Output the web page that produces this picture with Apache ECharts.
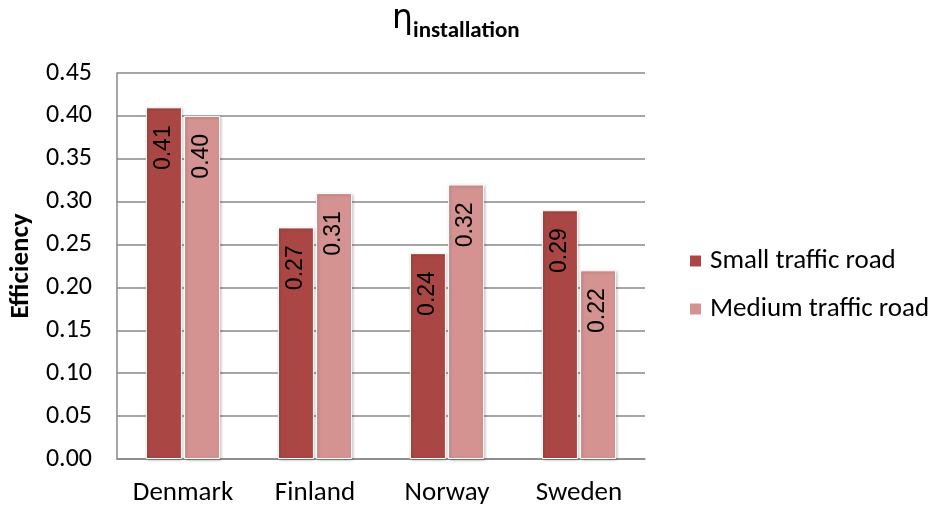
<!DOCTYPE html>
<html>
<head>
<meta charset="utf-8">
<script src="https://cdn.jsdelivr.net/npm/echarts@6/dist/echarts.min.js"></script>
<style>
  html, body { margin: 0; padding: 0; background: #fff; }
  #chart { width: 929px; height: 509px; }
</style>
</head>
<body>
<div id="chart"></div>
<script>
// Installation efficiency per country, two road traffic classes
const countries = ['Denmark', 'Finland', 'Norway', 'Sweden'];
const smallTraffic = [0.41, 0.27, 0.24, 0.29];
const mediumTraffic = [0.40, 0.31, 0.32, 0.22];
const seriesNames = ['Small traffic road', 'Medium traffic road'];

const chart = echarts.init(document.getElementById('chart'));

const uiFont = 'Calibri, Carlito, Lato, "Noto Sans", sans-serif';

function barLabel() {
  return {
    show: true,
    position: 'insideTop',
    distance: 18,
    rotate: 90,
    align: 'right',
    verticalAlign: 'middle',
    color: '#000',
    fontSize: 23,
    fontFamily: '"Liberation Sans", Arial, sans-serif',
    formatter: p => p.value.toFixed(2)
  };
}

const barStyle = color => ({
  color: color,
  borderColor: '#fff',
  borderWidth: 1,
  shadowColor: 'rgba(0,0,0,0.25)',
  shadowBlur: 3,
  shadowOffsetX: 1,
  shadowOffsetY: 1
});

chart.setOption({
  animation: false,
  textStyle: { fontFamily: uiFont },
  // eta with a bold subscript
  title: [
    {
      text: 'η',
      left: 392,
      top: 3,
      padding: 0,
      textStyle: { fontSize: 33, lineHeight: 33, fontWeight: 'normal', color: '#000', fontFamily: '"DejaVu Sans", sans-serif' }
    },
    {
      text: 'installation',
      left: 413,
      top: 20,
      padding: 0,
      textStyle: { fontSize: 23, lineHeight: 23, fontWeight: 'bold', color: '#000', fontFamily: uiFont }
    }
  ],
  grid: { left: 117, top: 73, width: 528, height: 386 },
  legend: {
    orient: 'vertical',
    left: 688,
    top: 247,
    padding: 0,
    itemWidth: 13,
    itemHeight: 13,
    itemGap: 20,
    icon: 'rect',
    data: seriesNames,
    textStyle: { fontSize: 27, lineHeight: 28, color: '#000', fontFamily: uiFont, padding: [0, 0, 0, 3] }
  },
  xAxis: {
    type: 'category',
    data: countries,
    axisLine: { lineStyle: { color: '#888', width: 1.5 } },
    axisTick: { show: false },
    axisLabel: { fontSize: 27, color: '#000', margin: 21, fontFamily: uiFont }
  },
  yAxis: {
    type: 'value',
    min: 0,
    max: 0.45,
    interval: 0.05,
    name: 'Efficiency',
    nameLocation: 'middle',
    nameGap: 80,
    nameTextStyle: { fontSize: 27, fontWeight: 'bold', color: '#000', fontFamily: uiFont },
    axisLine: { show: true, lineStyle: { color: '#888', width: 1.5 } },
    axisTick: { show: false },
    splitLine: { lineStyle: { color: '#888', width: 1.5 } },
    axisLabel: {
      fontSize: 26,
      color: '#000',
      margin: 25,
      fontFamily: uiFont,
      formatter: v => v.toFixed(2)
    }
  },
  series: [
    {
      name: seriesNames[0],
      type: 'bar',
      data: smallTraffic,
      barWidth: 36,
      barGap: '6%',
      itemStyle: barStyle('#AA4744'),
      label: barLabel()
    },
    {
      name: seriesNames[1],
      type: 'bar',
      data: mediumTraffic,
      barWidth: 36,
      barGap: '6%',
      itemStyle: barStyle('#D49391'),
      label: barLabel()
    }
  ]
});
</script>
</body>
</html>
